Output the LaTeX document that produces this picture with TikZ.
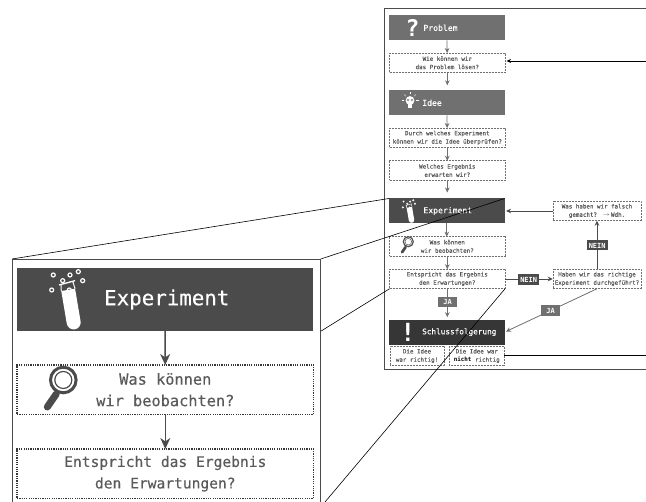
\documentclass[tikz,border=0pt]{standalone}
\usepackage{fontspec}
\setmainfont[FakeBold=0.25,BoldFeatures={FakeBold=0}]{DejaVu Sans Mono}
\usetikzlibrary{arrows.meta}

\definecolor{midgray}{HTML}{707070}
\definecolor{darkgray}{HTML}{4B4B4B}
\definecolor{blackgray}{HTML}{363636}
\definecolor{textgray}{HTML}{5A5A5A}

\newcommand{\tubeicon}[3]{%
  \begin{scope}[shift={(#1,#2)},scale=#3]
    \begin{scope}[rotate=9.6]
      \fill[white] (-7,-7) -- (7,-7) -- (7,-40) arc (0:-180:7) -- cycle;
      \draw[white,line width=#3*1pt] (-6,0) -- (-7,-7) (6,0) -- (7,-7);
    \end{scope}
    \draw[white,line width=#3*1.3pt] (-8,-2) -- (8,2.3);
    \foreach \bubblex/\bubbley in {-13.7/8,-4.3/2.3,3/8,11.3/11.3,15.7/2.3,-15.3/-7,2.3/-7}
      \draw[white,line width=#3*1.2pt] (\bubblex,\bubbley) circle (2);
  \end{scope}
}
\newcommand{\lensicon}[3]{%
  \begin{scope}[shift={(#1,#2)},scale=#3]
    \draw[darkgray,line width=#3*3pt] (0,0) circle (12.8);
    \draw[darkgray,line width=#3*1.2pt] (0,0) circle (8.5);
    \draw[darkgray,line width=#3*7pt,line cap=round] (-7,-14) -- (-16,-27);
  \end{scope}
}

\begin{document}
\begin{tikzpicture}[
  x=1pt,y=1pt,
  every node/.style={inner sep=0pt,outer sep=0pt,align=center},
  head/.style={fill=#1,text=white,minimum width=115.5pt,minimum height=25pt,font=\fontsize{8.1}{10}\selectfont},
  ask/.style={draw=midgray,line width=0.5pt,dash pattern=on 0.7pt off 0.8pt,fill=white,text=textgray,
    minimum width=115.5pt,minimum height=19.5pt,font=\fontsize{5.85}{8.3}\selectfont},
  bighead/.style={fill=darkgray,text=white,minimum width=296.5pt,minimum height=63.5pt,font=\fontsize{20.8}{25}\selectfont},
  bigask/.style={draw=blackgray,line width=1.3pt,dash pattern=on 1.2pt off 1.1pt,fill=white,text=textgray,
    minimum width=296.5pt,minimum height=49.5pt,font=\fontsize{14.6}{21.5}\selectfont},
  tag/.style={fill=#1,text=white,font=\bfseries\fontsize{7}{8}\selectfont},
  flow/.style={draw=midgray,line width=0.8pt,-{Stealth[length=5pt,width=4.6pt]}},
  sideflow/.style={flow,draw=darkgray},
  bigflow/.style={draw=darkgray,line width=1.6pt,-{Stealth[length=11pt,width=10pt]}},
  zoomline/.style={draw=black,line width=0.6pt},
]
  \useasboundingbox (0,0) rectangle (646,502);
  \clip (0,0) rectangle (646,502);
  \fill[white] (0,0) rectangle (646,502);

  % small page
  \coordinate (pagetop) at (646,494);
  \coordinate (pagebottom) at (646,133);
  \draw[draw=darkgray,line width=0.7pt] (pagetop) -- (384.5,494) -- (384.5,133) -- (pagebottom);

  % left column
  \node[head=midgray] (problem) at (446.8,474.2) {\hspace*{-12.6pt}Problem};
  \node[ask] (solve) at (447.3,439.2) {Wie können wir\\das Problem lösen?};
  \node[head=midgray] (idea) at (446.8,399.2) {\hspace*{-29.6pt}Idee};
  \node[ask] (check) at (447.3,364.2) {Durch welches Experiment\\können wir die Idee überprüfen?};
  \node[ask] (expect) at (447.3,331.5) {Welches Ergebnis\\erwarten wir?};
  \node[head=darkgray] (exp) at (446.8,291) {\hspace*{2pt}Experiment};
  \node[ask] (watch) at (447.3,255.6) {Was können\\wir beobachten?};
  \node[ask] (match) at (447.3,223) {Entspricht das Ergebnis\\den Erwartungen?};
  \node[head=blackgray,font=\fontsize{7.7}{10}\selectfont] (result) at (446.8,169.8) {\hspace*{25pt}Schlussfolgerung};
  \node[ask,minimum width=54pt] (right) at (417,146) {Die Idee\\war richtig!};
  \node[ask,minimum width=55pt] (wrong) at (476.8,146) {Die Idee war\\\textcolor{black}{\bfseries nicht} richtig};

  % right column
  \node[ask,minimum width=88.5pt] (wrongdone) at (597,291) {Was haben wir falsch\\gemacht? \,$\rightarrow$\,Wdh.};
  \node[ask,minimum width=88.5pt] (rightexp) at (597,223) {Haben wir das richtige\\Experiment durchgeführt?};

  \draw[flow] (problem) -- (solve);
  \draw[flow,shorten >=5pt] (solve) -- (idea.north -| solve);
  \draw[flow] (idea) -- (check);
  \draw[flow] (check) -- (expect);
  \draw[flow,shorten >=6pt] (expect) -- (exp.north -| expect);
  \draw[flow] (exp) -- (watch.north -| exp);
  \draw[flow] (watch) -- (match);
  \draw[flow,shorten >=2.5pt] (match) -- (result.north -| match);
  \draw[sideflow] (match) -- (rightexp);
  \draw[sideflow] (rightexp) -- (wrongdone);
  \draw[sideflow,shorten >=1.5pt] (wrongdone) -- (exp);
  \draw[flow,shorten >=1.5pt] (rightexp.south) -- (result.east);

  \node[tag=midgray,minimum width=18.5pt,minimum height=10.6pt] (yes) at (447.5,200) {JA};
  \node[tag=darkgray,minimum width=20.7pt,minimum height=11pt] (nosame) at (528.7,222.5) {NEIN};
  \node[tag=darkgray,minimum width=21pt,minimum height=10pt] (nocause) at (597.2,256.5) {NEIN};
  \node[tag=midgray,minimum width=18.7pt,minimum height=11pt] (yescause) at (550.7,191) {JA};

  % feedback from the right edge
  \coordinate (feedin) at (646,441);
  \coordinate (feedout) at (646,146.3);
  \draw[draw=black,line width=0.6pt,-{Stealth[length=4.5pt,width=4pt]},shorten >=1.5pt] (feedin) -- (solve.east |- feedin);
  \draw[draw=black,line width=0.6pt] (feedout) -- (wrong.east |- feedout);

  % icons
  \node[text=white,font=\bfseries\fontsize{23}{23}\selectfont] (mark) at (412.5,474) {?};
  \node[text=white,font=\bfseries\fontsize{25}{25}\selectfont] (bang) at (408,170) {!};
  \fill[white] (410,401.5) circle (4.4);
  \fill[white] (408,394) rectangle (412,397.5);
  \draw[midgray,line width=0.4pt] (408.2,402) circle (1) (411.8,402) circle (1);
  \foreach \raya in {0,45,90,135,180}
    \draw[white,line width=0.35pt] (410,401.5)++(\raya:6) -- ++(\raya:2.5);
  \tubeicon{408.9}{297.3}{0.39}
  \lensicon{408.3}{260.3}{0.39}

  % enlarged part
  \node[draw=darkgray,line width=0.7pt,fill=white,minimum width=308.7pt,minimum height=260pt] (bigframe) at (166.4,113) {};
  \node[bighead] (bigexp) at (165,202.5) {\hspace*{3.6pt}Experiment};
  \node[bigask,font=\fontsize{15.3}{21.5}\selectfont] (bigwatch) at (165.3,112.3) {Was können\\wir beobachten?};
  \node[bigask] (bigmatch) at (165.3,28.3) {Entspricht das Ergebnis\\den Erwartungen?};
  \draw[bigflow] (bigexp) -- (bigwatch);
  \draw[bigflow] (bigwatch) -- (bigmatch);
  \tubeicon{67}{219}{1}
  \lensicon{63.3}{122}{1}

  % zoom lines
  \draw[zoomline] (bigframe.north west) -- (exp.north west);
  \draw[zoomline] (bigframe.north east) -- (exp.north east);
  \draw[zoomline] (bigexp.south east -| bigframe.east) -- (match.south west);
  \coordinate (bigcorner) at (325,0);
  \draw[zoomline] (bigcorner) -- (match.south east);
\end{tikzpicture}
\end{document}
